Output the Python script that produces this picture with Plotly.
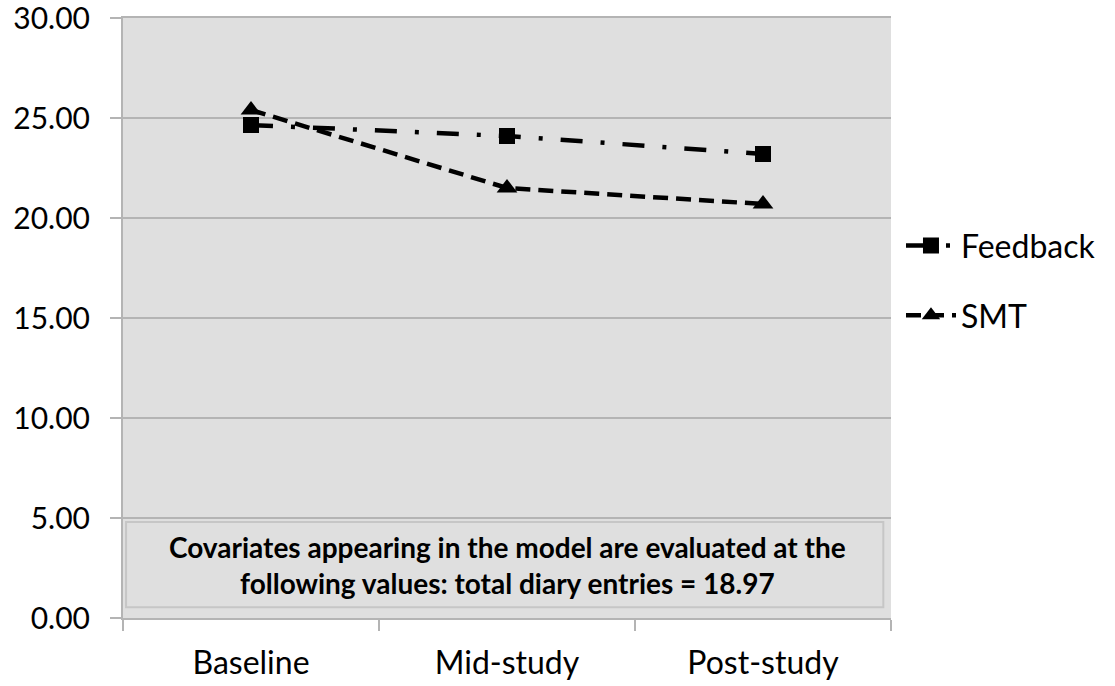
import plotly.graph_objects as go

# Study phases and estimated marginal means per group
phases = ["Baseline", "Mid-study", "Post-study"]
feedback = [24.65, 24.1, 23.2]
smt = [25.4, 21.5, 20.7]
y_ticks = [0, 5, 10, 15, 20, 25, 30]
note = ("<b>Covariates appearing in the model are evaluated at the<br>"
        "following values: total diary entries = 18.97</b>")

FONT = "Lato"
GRID = "#b4b4b4"
PLOT_BG = "#dfdfdf"

fig = go.Figure()

fig.add_trace(go.Scatter(
    x=phases, y=feedback, name="Feedback", mode="lines+markers",
    legendgroup="fb",
    line=dict(color="black", width=4.5, dash="22px,18px,4px,18px"),
    marker=dict(symbol="square", size=16, color="black"),
))
fig.add_trace(go.Scatter(
    x=phases, y=smt, name="SMT", mode="lines+markers",
    legendgroup="smt",
    line=dict(color="black", width=4.5, dash="15px,8px"),
    marker=dict(symbol="triangle-up", size=18, color="black"),
))

# Note box inside the lower part of the plotting area
fig.add_shape(
    type="rect", xref="paper", yref="paper",
    x0=0.004, x1=0.99, y0=0.018, y1=0.16,
    line=dict(color="#c6c6c6", width=2), fillcolor=PLOT_BG, layer="above",
)
fig.add_annotation(
    text=note, xref="paper", yref="paper", x=0.5, y=0.088,
    xanchor="center", yanchor="middle",
    showarrow=False, align="center",
    font=dict(family=FONT, size=28, color="black"),
)

fig.update_layout(
    width=1115, height=686,
    margin=dict(l=123, r=224, t=18, b=68),
    paper_bgcolor="white", plot_bgcolor=PLOT_BG,
    font=dict(family=FONT, size=30, color="black"),
    showlegend=True,
    legend=dict(
        x=1.013, xanchor="left", y=0.562, yanchor="middle",
        font=dict(family=FONT, size=32), tracegroupgap=25,
        itemwidth=50, bgcolor="rgba(0,0,0,0)",
    ),
)

fig.update_xaxes(
    type="category", categoryorder="array", categoryarray=phases,
    range=[-0.5, 2.5], tickson="boundaries", ticks="outside",
    ticklen=11, tickwidth=2, tickcolor=GRID,
    showgrid=False, showline=True, linecolor=GRID, linewidth=2,
    mirror=True, automargin=False,
    zeroline=False, ticklabelstandoff=16,
    tickfont=dict(family=FONT, size=32),
)
fig.update_yaxes(
    range=[0, 30], tickvals=y_ticks,
    ticktext=[f"{v:.2f}" for v in y_ticks],
    ticks="outside", ticklen=11, tickwidth=2, tickcolor=GRID,
    showgrid=True, gridcolor=GRID, gridwidth=2,
    showline=True, linecolor=GRID, linewidth=2,
    zeroline=False, ticklabelstandoff=14, automargin=False,
    ticklabeloverflow="allow",
    tickfont=dict(family=FONT, size=30),
)

fig.write_html("out.html")
